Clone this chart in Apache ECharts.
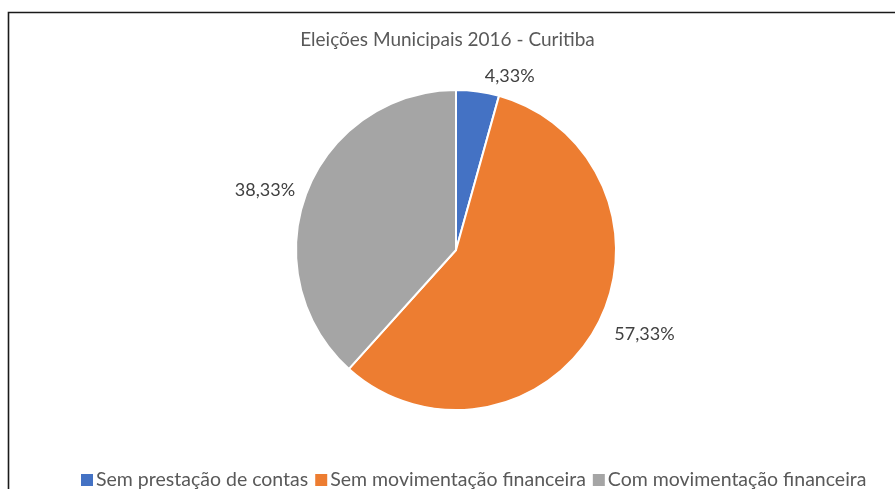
<!DOCTYPE html>
<html>
<head>
<meta charset="utf-8">
<script src="https://cdn.jsdelivr.net/npm/echarts@6/dist/echarts.min.js"></script>
<style>
  html, body { margin: 0; padding: 0; background: #fff; }
  #chart { width: 895px; height: 489px; }
</style>
</head>
<body>
<div id="chart"></div>
<script>
const chartTitle = 'Eleições Municipais 2016 - Curitiba'
const categories = ['Sem prestação de contas', 'Sem movimentação financeira', 'Com movimentação financeira']
const percentages = [4.33, 57.33, 38.33]
const colors = ['#4472C4', '#ED7D31', '#A5A5A5']
// label offset outside the pie, per slice
const labelOffsets = [15, 15, 7]

const chart = echarts.init(document.getElementById('chart'))
const fontFamily = 'Lato, "Open Sans", sans-serif'

chart.setOption({
  animation: false,
  color: colors,
  textStyle: { fontFamily: fontFamily },
  graphic: [
    {
      type: 'rect',
      shape: { x: 8.5, y: 12.5, width: 1000, height: 1000 },
      style: { fill: 'none', stroke: '#1a1a1a', lineWidth: 1.6 },
      silent: true
    }
  ],
  title: {
    text: chartTitle,
    left: 'center',
    top: 25,
    textStyle: { color: '#595959', fontSize: 19, fontWeight: 'normal', fontFamily: fontFamily }
  },
  legend: {
    left: 79,
    top: 470,
    padding: 0,
    icon: 'rect',
    itemWidth: 14,
    itemHeight: 14,
    itemGap: 5,
    textStyle: { color: '#595959', fontSize: 19.5, fontFamily: fontFamily, padding: [0, 0, 0, -3] },
    data: categories
  },
  series: [
    {
      type: 'pie',
      center: [456, 250],
      radius: 160,
      startAngle: 90,
      clockwise: true,
      itemStyle: { borderColor: '#fff', borderWidth: 2 },
      label: {
        show: true,
        position: 'outside',
        color: '#404040',
        fontSize: 18,
        fontFamily: fontFamily,
        formatter: p => p.value.toFixed(2).replace('.', ',') + '%'
      },
      labelLine: { show: false, length: 15, length2: 0 },
      data: categories.map((name, i) => ({
        name: name,
        value: percentages[i],
        labelLine: { show: false, length: labelOffsets[i], length2: 0 }
      }))
    }
  ]
})
</script>
</body>
</html>
